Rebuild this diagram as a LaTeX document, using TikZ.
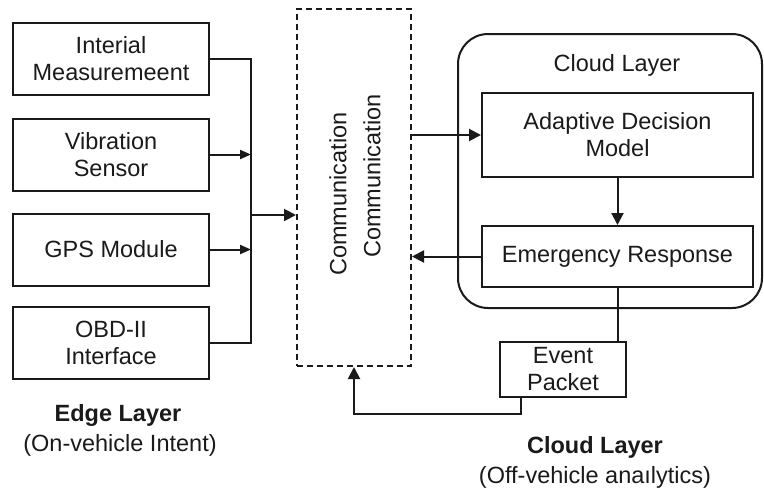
\documentclass[tikz,border=0pt]{standalone}
\usepackage{fontspec}
\setmainfont{Liberation Sans}
\usetikzlibrary{arrows.meta}
\definecolor{ink}{HTML}{1A1A1A}
\begin{document}
\begin{tikzpicture}[x=1pt,y=-1pt,
  every node/.style={font=\fontsize{23.5}{27}\selectfont, text=ink},
  box/.style={draw=ink, line width=2pt, align=center, inner sep=0pt, minimum width=196pt, minimum height=72pt},
  cbox/.style={draw=ink, line width=2pt, align=center, inner sep=0pt, minimum width=271pt},
  arr/.style={draw=ink, line width=2pt, -{Triangle[length=12pt,width=12pt]}},
  sarr/.style={draw=ink, line width=2pt, -{Triangle[length=11pt,width=9pt]}},
  ln/.style={draw=ink, line width=2pt}]
\useasboundingbox (0,0) rectangle (764,491);
% edge layer
\node[box] (imu) at (111,58.5) {Interial\\Measuremeent};
\node[box] (vib) at (111,154.5) {Vibration\\Sensor};
\node[box] (gps) at (111,249.5) {GPS Module};
\node[box] (obd) at (111,343) {OBD-II\\Interface};
\node[font=\fontsize{23.5}{27}\selectfont\bfseries] (el) at (118,415) {Edge Layer};
\node (elsub) at (120,445) {(On-vehicle Intent)};
% communication
\node[draw=ink, line width=2pt, dash pattern=on 6pt off 4pt, minimum width=114pt, minimum height=357pt, inner sep=0pt] (comm) at (354,187.5) {};
\node[rotate=90] (c1) at (338,194) {Communication};
\node[rotate=90] (c2) at (372,176) {Communication};
% cloud
\node[draw=ink, line width=2pt, rounded corners=30pt, minimum width=304pt, minimum height=274pt, inner sep=0pt] (cloud) at (610,171) {};
\node (cl) at (617,65) {Cloud Layer};
\node[cbox, minimum height=84pt] (adm) at (617.5,135) {Adaptive Decision\\Model};
\node[cbox, minimum height=61pt] (er) at (617.5,256.5) {Emergency Response};
\node[draw=ink, line width=2pt, align=center, inner sep=0pt, minimum width=126pt, minimum height=55pt] (ep) at (563,369.5) {Event\\Packet};
\node[font=\fontsize{23.5}{27}\selectfont\bfseries] (clb) at (595,447) {Cloud Layer};
\node (clsub) at (595,477) {(Off-vehicle anaılytics)};
% connectors
\coordinate (bus) at (251,215);
\draw[ln] (imu.east) -| (bus);
\draw[ln] (obd.east) -| (bus);
\draw[sarr] (vib.east) -- (vib.east -| bus);
\draw[sarr] (gps.east) -- (gps.east -| bus);
\draw[arr] (bus) -- (bus -| comm.west);
\draw[arr] (comm.east |- adm.west) -- (adm.west);
\draw[arr] (er.west) -- (er.west -| comm.east);
\draw[arr] (adm.south) -- (er.north);
\draw[ln] (er.south) -- (er.south |- ep.north);
\draw[arr] ([xshift=-42pt]ep.south) -- ++(0,16) -| (comm.south);
\end{tikzpicture}
\end{document}
